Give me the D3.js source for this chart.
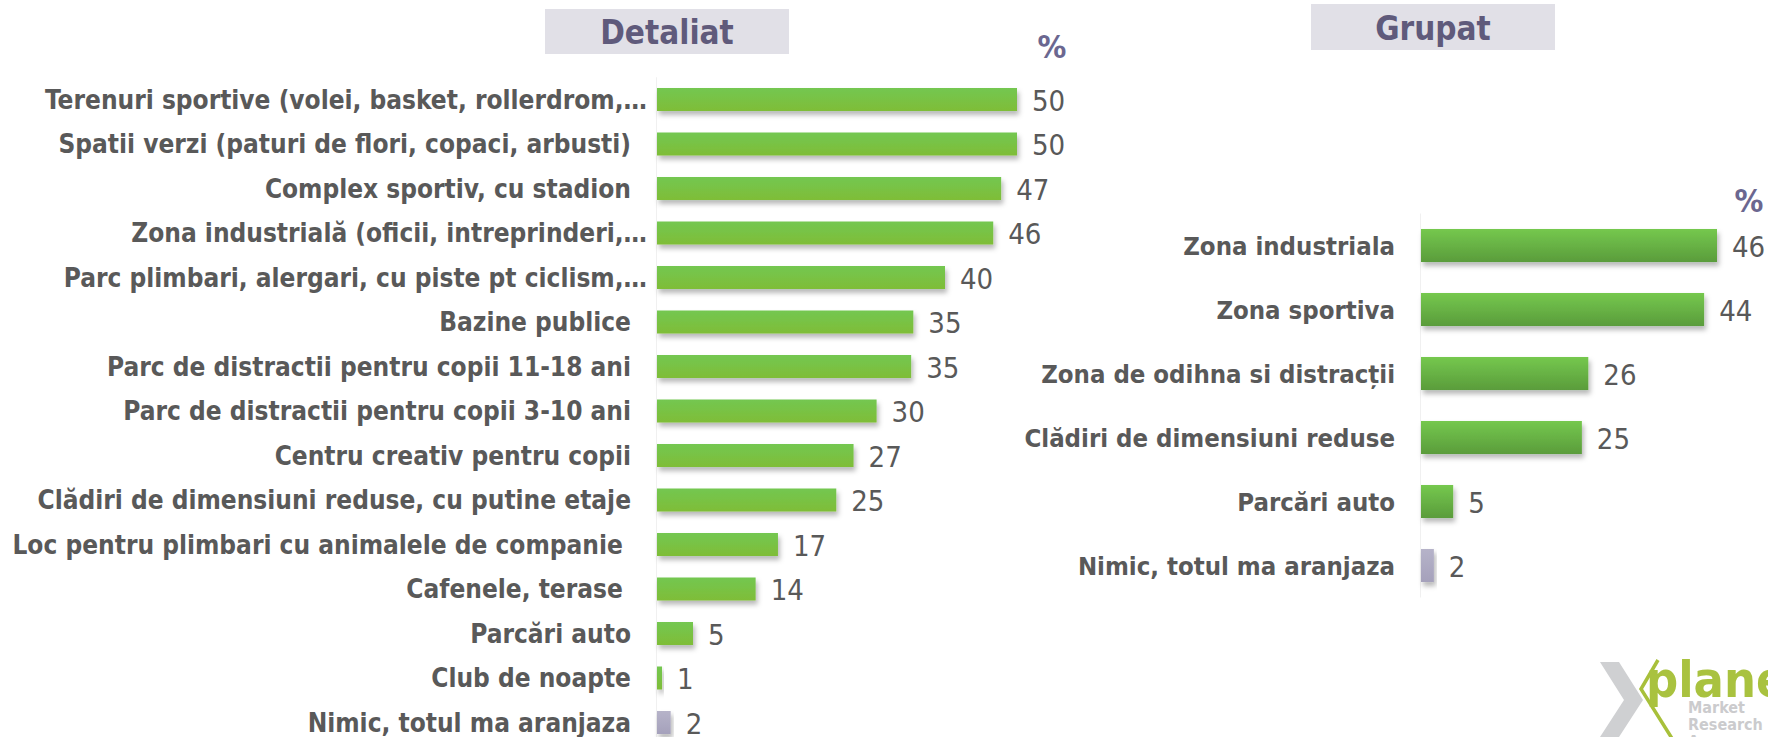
<!DOCTYPE html>
<html>
<head>
<meta charset="utf-8">
<script src="https://cdn.jsdelivr.net/npm/d3@7"></script>
<style>
  body { margin: 0; background: #fff; }
  svg text { font-family: "DejaVu Sans Condensed", "DejaVu Sans", sans-serif; font-stretch: condensed; }
</style>
</head>
<body>
<svg id="chart" width="1768" height="737"></svg>
<script>
// --- data ---
const detailCats = [
  "Terenuri sportive (volei, basket, rollerdrom,…",
  "Spatii verzi (paturi de flori, copaci, arbusti)",
  "Complex sportiv, cu stadion",
  "Zona industrială (oficii, intreprinderi,…",
  "Parc plimbari, alergari, cu piste pt ciclism,…",
  "Bazine publice",
  "Parc de distractii pentru copii 11-18 ani",
  "Parc de distractii pentru copii 3-10 ani",
  "Centru creativ pentru copii",
  "Clădiri de dimensiuni reduse, cu putine etaje",
  "Loc pentru plimbari cu animalele de companie ",
  "Cafenele, terase ",
  "Parcări auto",
  "Club de noapte",
  "Nimic, totul ma aranjaza"
];
// printed labels
const detailShown = [50, 50, 47, 46, 40, 35, 35, 30, 27, 25, 17, 14, 5, 1, 2];
// bar lengths
const detailBars = [50, 50, 47.8, 46.7, 40, 35.6, 35.3, 30.5, 27.3, 24.9, 16.8, 13.7, 5, 0.7, 1.9];

const groupCats = [
  "Zona industriala",
  "Zona sportiva",
  "Zona de odihna si distracții",
  "Clădiri de dimensiuni reduse",
  "Parcări auto",
  "Nimic, totul ma aranjaza"
];
const groupShown = [46, 44, 26, 25, 5, 2];

const svg = d3.select('#chart');
const defs = svg.append('defs');

function gradient(id, top, bottom) {
  const g = defs.append('linearGradient').attr('id', id)
    .attr('x1', 0).attr('y1', 0).attr('x2', 0).attr('y2', 1);
  g.append('stop').attr('offset', '0%').attr('stop-color', top);
  g.append('stop').attr('offset', '100%').attr('stop-color', bottom);
}
gradient('gLeft', '#73c751', '#7fbd37');
gradient('gRight', '#75c84e', '#5a9c3b');
gradient('gGrey', '#b6b3c9', '#a5a1bb');

defs.append('filter').attr('id', 'shadow')
  .attr('x', '-20%').attr('y', '-30%').attr('width', '140%').attr('height', '190%')
  .append('feDropShadow')
  .attr('dx', 2).attr('dy', 4).attr('stdDeviation', 2.5)
  .attr('flood-color', '#000').attr('flood-opacity', 0.28);

// title boxes
function titleBox(x, y, w, h, label) {
  svg.append('rect').attr('x', x).attr('y', y).attr('width', w).attr('height', h)
    .attr('fill', '#e1e0e7');
  svg.append('text').attr('x', x + w / 2).attr('y', y + h / 2 + 1)
    .attr('text-anchor', 'middle').attr('dominant-baseline', 'central')
    .attr('font-size', 33).attr('font-weight', 'bold').attr('fill', '#5f5a7b')
    .text(label);
}
titleBox(545, 9, 244, 45, 'Detaliat');
titleBox(1311, 4, 244, 46, 'Grupat');

function barChart(o) {
  const x = d3.scaleLinear().domain([0, o.max]).range([o.x0, o.x1]);
  const y = d3.scaleBand().domain(o.cats).range(o.yRange)
    .paddingInner(o.pad).paddingOuter(o.pad / 2);

  const g = svg.append('g');
  // faint axis line
  g.append('line').attr('x1', o.x0 - 0.5).attr('x2', o.x0 - 0.5)
    .attr('y1', o.yRange[0]).attr('y2', o.yRange[1])
    .attr('stroke', '#f0f0f0').attr('stroke-width', 1);

  const last = o.cats.length - 1;
  g.selectAll('rect.bar').data(o.cats).join('rect')
    .attr('class', 'bar')
    .attr('x', x(0))
    .attr('y', d => y(d))
    .attr('width', (d, i) => x(o.bars[i]) - x(0))
    .attr('height', y.bandwidth())
    .attr('fill', (d, i) => i === last ? 'url(#gGrey)' : `url(#${o.grad})`)
    .attr('filter', 'url(#shadow)');

  g.selectAll('text.cat').data(o.cats).join('text')
    .attr('class', 'cat')
    .attr('x', d => d.endsWith('…') ? o.x0 - 10 : o.x0 - 26)
    .attr('y', d => y(d) + y.bandwidth() / 2)
    .attr('text-anchor', 'end').attr('dominant-baseline', 'central')
    .attr('font-size', o.catSize).attr('font-weight', 'bold').attr('fill', '#595959')
    .style('white-space', 'pre')
    .text(d => d);

  g.selectAll('text.val').data(o.cats).join('text')
    .attr('class', 'val')
    .attr('x', (d, i) => x(o.bars[i]) + 15)
    .attr('y', d => y(d) + y.bandwidth() / 2 + 1)
    .attr('dominant-baseline', 'central')
    .attr('font-size', o.valSize).attr('fill', '#595959')
    .text((d, i) => o.shown[i]);

  svg.append('text').attr('x', o.pct[0]).attr('y', o.pct[1])
    .attr('text-anchor', 'middle')
    .attr('font-size', 32).attr('font-weight', 'bold').attr('fill', '#6b6790')
    .text('%');
}

barChart({
  cats: detailCats, bars: detailBars, shown: detailShown, max: 50,
  x0: 657, x1: 1017, yRange: [77.25, 744.75], pad: 0.483,
  grad: 'gLeft', catSize: 26, valSize: 29, pct: [1052, 58]
});

barChart({
  cats: groupCats, bars: groupShown, shown: groupShown, max: 46,
  x0: 1421, x1: 1717, yRange: [213.5, 597.5], pad: 0.484,
  grad: 'gRight', catSize: 25.5, valSize: 29, pct: [1749, 212]
});

// logo, bottom right
const logo = svg.append('g');
logo.append('path').attr('d', 'M1600,662 L1619,662 L1643,700 L1619,737 L1600,737 L1624,700 Z')
  .attr('fill', '#cfd0d2');
logo.append('path').attr('d', 'M1658,660 L1641,689 L1673,740')
  .attr('fill', 'none').attr('stroke', '#a8c03a').attr('stroke-width', 3.5);
logo.append('text').attr('x', 1646).attr('y', 697)
  .attr('font-size', 50).attr('font-weight', 'bold').attr('fill', '#a9c23f')
  .text('plane');
['Market', 'Research', 'Agency'].forEach((t, i) => {
  logo.append('text').attr('x', 1688).attr('y', 713 + i * 17)
    .attr('font-size', 16).attr('font-weight', 'bold').attr('fill', '#cbcbcd')
    .text(t);
});
</script>
</body>
</html>
